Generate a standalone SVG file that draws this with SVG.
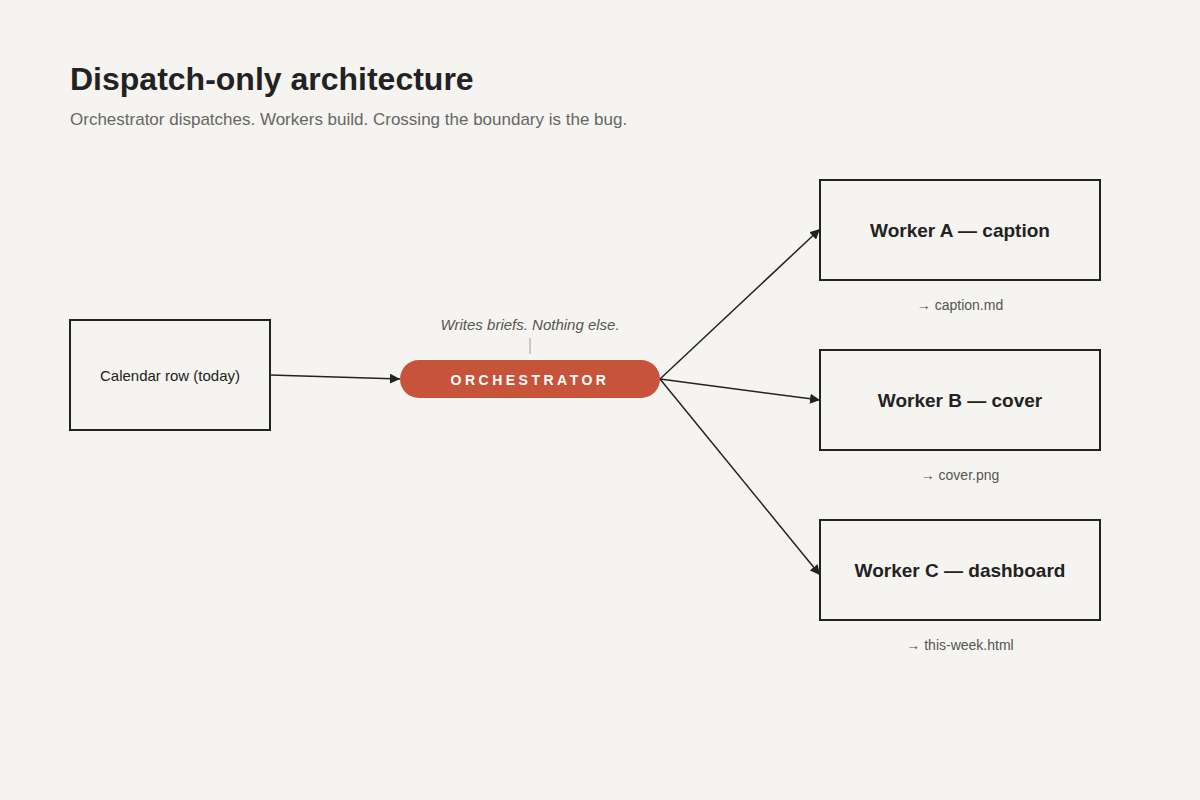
<svg xmlns="http://www.w3.org/2000/svg" width="1200" height="800" viewBox="0 0 1200 800">
<style>
text{font-family:"Liberation Sans",Arial,sans-serif}
.box{fill:none;stroke:#222;stroke-width:2}
.wk{font-size:19px;font-weight:bold;fill:#222;text-anchor:middle}
.out{font-size:14px;fill:#555;text-anchor:middle}
.edge{stroke:#222;stroke-width:1.5;fill:none;marker-end:url(#ah)}
</style>
<defs><marker id="ah" viewBox="0 0 10 10" refX="10" refY="5" markerWidth="10" markerHeight="10" markerUnits="userSpaceOnUse" orient="auto"><path d="M0,0L10,5L0,10z" fill="#222"/></marker></defs>
<rect width="1200" height="800" fill="#f5f4f0"/>
<text x="70" y="90" font-size="32" font-weight="bold" fill="#222">Dispatch-only architecture</text>
<text x="70" y="125" font-size="17" fill="#666">Orchestrator dispatches. Workers build. Crossing the boundary is the bug.</text>
<g id="connectors">
<line class="edge" x1="270" y1="375" x2="400" y2="379"/>
<line class="edge" x1="660" y1="379" x2="820" y2="229"/>
<line class="edge" x1="660" y1="379" x2="820" y2="400"/>
<line class="edge" x1="660" y1="379" x2="820" y2="575"/>
<line x1="530" y1="338" x2="530" y2="354" stroke="#bbb" stroke-width="1.5"/>
</g>
<g id="calendar"><rect class="box" x="70" y="320" width="200" height="110"/><text x="170" y="381" font-size="15" fill="#222" text-anchor="middle">Calendar row (today)</text></g>
<g id="orchestrator"><rect x="400" y="360" width="260" height="38" rx="19" fill="#c8533b"/><text x="530" y="385" font-size="14" font-weight="bold" fill="#fff" text-anchor="middle" letter-spacing="3.5">ORCHESTRATOR</text>
<text x="530" y="330" font-size="15" font-style="italic" fill="#555" text-anchor="middle">Writes briefs. Nothing else.</text></g>
<g id="workerA"><rect class="box" x="820" y="180" width="280" height="100"/><text class="wk" x="960" y="237">Worker A — caption</text><text class="out" x="960" y="310">→ caption.md</text></g>
<g id="workerB"><rect class="box" x="820" y="350" width="280" height="100"/><text class="wk" x="960" y="407">Worker B — cover</text><text class="out" x="960" y="480">→ cover.png</text></g>
<g id="workerC"><rect class="box" x="820" y="520" width="280" height="100"/><text class="wk" x="960" y="577">Worker C — dashboard</text><text class="out" x="960" y="650">→ this-week.html</text></g>
</svg>
